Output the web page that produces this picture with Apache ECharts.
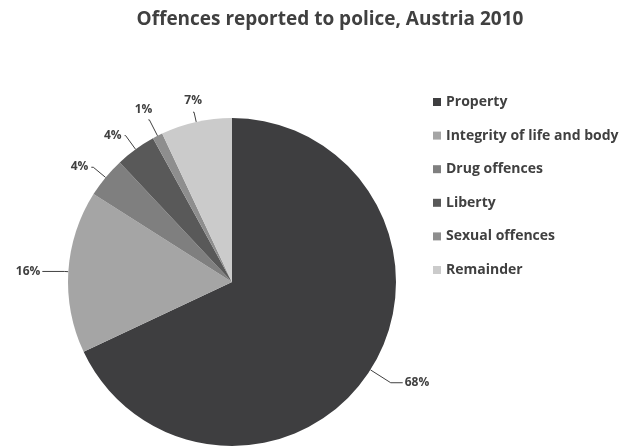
<!DOCTYPE html>
<html>
<head>
<meta charset="utf-8">
<script src="https://cdn.jsdelivr.net/npm/echarts@6/dist/echarts.min.js"></script>
<style>
  html, body { margin: 0; padding: 0; background: #ffffff; }
  #chart { width: 630px; height: 448px; }
</style>
</head>
<body>
<div id="chart"></div>
<script>
// Offence categories and their share of all reported offences (%)
const categories = [
  'Property',
  'Integrity of life and body',
  'Drug offences',
  'Liberty',
  'Sexual offences',
  'Remainder'
];
const shares = [68, 16, 4, 4, 1, 7];

// Grey shades per category
const colors = ['#3e3e40', '#a5a5a5', '#7f7f7f', '#595959', '#8e8e8e', '#cbcbcb'];
// Leader line lengths per slice [radial, horizontal]
const leaderLines = [[24, 12], [4, 22], [16, 2], [17, 1], [18, 1], [10, 1]];
// Extra nudge of the small top labels so they sit above their leader lines
const labelNudge = [[0, 0], [0, 0], [-1, -1], [-1, 0], [6, -10], [11, -12]];

const FONT = '"Open Sans", "Liberation Sans", Arial, sans-serif';

const chart = echarts.init(document.getElementById('chart'), null, { renderer: 'canvas' });

chart.setOption({
  animation: false,
  color: colors,
  title: {
    text: 'Offences reported to police, Austria 2010',
    left: 325,
    textAlign: 'center',
    top: 5,
    textStyle: { fontFamily: FONT, fontSize: 19, fontWeight: 'bold', color: '#404040' }
  },
  legend: {
    orient: 'vertical',
    left: 433,
    top: 94,
    padding: 0,
    itemWidth: 8,
    itemHeight: 8,
    itemGap: 17.6,
    icon: 'rect',
    data: categories,
    textStyle: { fontFamily: FONT, fontSize: 14, fontWeight: 'bold', color: '#404040', lineHeight: 16 }
  },
  series: [{
    type: 'pie',
    center: [232, 282],
    radius: 164,
    startAngle: 90,
    clockwise: true,
    avoidLabelOverlap: false,
    label: {
      show: true,
      formatter: '{c}%',
      fontFamily: FONT,
      fontSize: 12,
      fontWeight: 'bold',
      color: '#404040',
      distanceToLabelLine: 2
    },
    labelLine: {
      show: true,
      lineStyle: { color: '#404040', width: 1 }
    },
    labelLayout: function (params) {
      const n = labelNudge[params.dataIndex];
      return { dx: n[0], dy: n[1] };
    },
    itemStyle: { borderWidth: 0 },
    data: categories.map((name, i) => ({
      name: name,
      value: shares[i],
      labelLine: { length: leaderLines[i][0], length2: leaderLines[i][1] }
    }))
  }]
});
</script>
</body>
</html>
